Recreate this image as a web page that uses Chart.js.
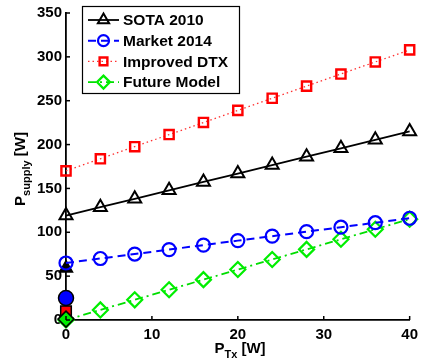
<!DOCTYPE html>
<html>
<head>
<meta charset="utf-8">
<script src="https://cdn.jsdelivr.net/npm/chart.js@4"></script>
<style>
  html, body { margin: 0; padding: 0; background: #fff; }
  #wrap { position: relative; width: 424px; height: 359px; }
</style>
</head>
<body>
<div id="wrap"><canvas id="c" width="424" height="359"></canvas></div>
<script>
// Transmit power (W)
const txPower = [0, 4, 8, 12, 16, 20, 24, 28, 32, 36, 40];

// Supply power (W) per model
const sota2010 = [119, 128.6, 138.2, 147.8, 157.4, 167, 176.6, 186.2, 195.8, 205.4, 215];
const market2014 = [65, 70.1, 75.2, 80.3, 85.4, 90.5, 95.6, 100.7, 105.8, 110.9, 116];
const improvedDtx = [170, 183.8, 197.6, 211.4, 225.2, 239, 252.8, 266.6, 280.4, 294.2, 308];
const futureModel = [0, 11.5, 23, 34.5, 46, 57.5, 69, 80.5, 92, 103.5, 115];

// Sleep-mode power at zero transmit power (W)
const sleepSota = 59;
const sleepMarket = 25;
const sleepDtx = 10;
const sleepFuture = 1;

const seriesNames = ['SOTA 2010', 'Market 2014', 'Improved DTX', 'Future Model'];
const xTicks = [0, 10, 20, 30, 40];
const yTicks = [0, 50, 100, 150, 200, 250, 300, 350];

const FONT = '"Liberation Sans", Arial, sans-serif';

function pts(ys) { return txPower.map((x, i) => ({ x, y: ys[i] })); }

const series = [
  { label: seriesNames[0], data: pts(sota2010), borderColor: '#000', borderWidth: 1.8, borderDash: [],
    pointStyle: 'triangle', pointRadius: 7.5, pointBorderColor: '#000', pointBorderWidth: 2, pointBackgroundColor: 'rgba(0,0,0,0)' },
  { label: seriesNames[1], data: pts(market2014), borderColor: '#0000ff', borderWidth: 2, borderDash: [8, 5],
    pointStyle: 'circle', pointRadius: 6.5, pointBorderColor: '#0000ff', pointBorderWidth: 2.2, pointBackgroundColor: 'rgba(0,0,0,0)' },
  { label: seriesNames[2], data: pts(improvedDtx), borderColor: '#ff3030', borderWidth: 1.3, borderDash: [1.5, 3],
    pointStyle: 'rect', pointRadius: 6.5, pointBorderColor: '#ff0000', pointBorderWidth: 2.4, pointBackgroundColor: 'rgba(0,0,0,0)' },
  { label: seriesNames[3], data: pts(futureModel), borderColor: '#00dd00', borderWidth: 1.8, borderDash: [8, 4, 2, 4],
    pointStyle: 'rectRot', pointRadius: 7.5, pointBorderColor: '#00ee00', pointBorderWidth: 2.2, pointBackgroundColor: 'rgba(0,0,0,0)' }
];

const datasets = series.map(s => Object.assign({ showLine: true, fill: false, tension: 0, order: 1, clip: false }, s));

// Filled markers for sleep mode
datasets.push({ data: [{ x: 0, y: sleepSota }], showLine: false, pointStyle: 'triangle', pointRadius: 7.5, clip: false,
  pointBackgroundColor: '#000', pointBorderColor: '#000', pointBorderWidth: 1.5, order: 10 });
datasets.push({ data: [{ x: 0, y: sleepMarket }], showLine: false, pointStyle: 'circle', pointRadius: 7.5, clip: false,
  pointBackgroundColor: '#0000ff', pointBorderColor: '#000', pointBorderWidth: 1.5, order: -1 });
datasets.push({ data: [{ x: 0, y: sleepDtx }], showLine: false, pointStyle: 'rect', pointRadius: 7.5, clip: false,
  pointBackgroundColor: '#ff0000', pointBorderColor: '#000', pointBorderWidth: 1.5, order: -1 });
datasets.push({ data: [{ x: 0, y: sleepFuture }], showLine: false, pointStyle: 'rectRot', pointRadius: 8, clip: false,
  pointBackgroundColor: '#00ee00', pointBorderColor: '#000', pointBorderWidth: 1.5, order: -2 });

// Inward tick marks, axis titles with subscripts, and a boxed legend
const decorations = {
  id: 'decorations',
  afterDraw(chart) {
    const ctx = chart.ctx;
    const xs = chart.scales.x, ys = chart.scales.y;
    const left = xs.left, bottom = ys.bottom;
    ctx.save();
    ctx.strokeStyle = '#000';
    ctx.lineWidth = 1.5;
    xTicks.forEach(v => {
      const px = xs.getPixelForValue(v);
      ctx.beginPath(); ctx.moveTo(px, bottom); ctx.lineTo(px, bottom - 4); ctx.stroke();
    });
    yTicks.forEach(v => {
      const py = ys.getPixelForValue(v);
      ctx.beginPath(); ctx.moveTo(left, py); ctx.lineTo(left + 4, py); ctx.stroke();
    });

    // x title: P_Tx [W]
    ctx.fillStyle = '#000';
    ctx.textBaseline = 'alphabetic';
    ctx.textAlign = 'left';
    const big = 'bold 15px ' + FONT, small = 'bold 11px ' + FONT;
    ctx.font = big; const wP = ctx.measureText('P').width; const wW = ctx.measureText(' [W]').width;
    ctx.font = small; const wTx = ctx.measureText('Tx').width;
    let tx = 240 - (wP + wTx + wW) / 2, ty = 353;
    ctx.font = big; ctx.fillText('P', tx, ty);
    ctx.font = small; ctx.fillText('Tx', tx + wP, ty + 5);
    ctx.font = big; ctx.fillText(' [W]', tx + wP + wTx, ty);

    // y title: P_supply [W], rotated
    ctx.font = small; const wSup = ctx.measureText('supply').width;
    const totalY = wP + wSup + wW;
    ctx.translate(25, 169);
    ctx.rotate(-Math.PI / 2);
    let sx = -totalY / 2;
    ctx.font = big; ctx.fillText('P', sx, 0);
    ctx.font = small; ctx.fillText('supply', sx + wP, 5);
    ctx.font = big; ctx.fillText(' [W]', sx + wP + wSup, 0);
    ctx.setTransform(1, 0, 0, 1, 0, 0);

    // legend box
    const bx = 82, by = 6, bw = 157, bh = 87;
    ctx.fillStyle = '#fff';
    ctx.fillRect(bx, by, bw, bh);
    ctx.lineWidth = 1.2;
    ctx.strokeStyle = '#000';
    ctx.strokeRect(bx + 0.5, by + 0.5, bw, bh);
    ctx.font = 'bold 15.5px ' + FONT;
    ctx.textBaseline = 'middle';
    series.forEach((s, i) => {
      const cy = by + 14 + i * 20.7;
      ctx.save();
      ctx.strokeStyle = s.borderColor;
      ctx.lineWidth = s.borderWidth;
      ctx.setLineDash(s.borderDash);
      ctx.beginPath(); ctx.moveTo(88, cy); ctx.lineTo(119, cy); ctx.stroke();
      ctx.restore();
      ctx.save();
      ctx.strokeStyle = s.pointBorderColor;
      ctx.fillStyle = 'rgba(0,0,0,0)';
      ctx.lineWidth = s.pointBorderWidth;
      Chart.helpers.drawPoint(ctx, { pointStyle: s.pointStyle, radius: s.pointRadius - 1, borderWidth: s.pointBorderWidth, rotation: 0 }, 103.5, cy);
      ctx.restore();
      ctx.fillStyle = '#000';
      ctx.fillText(s.label, 123, cy + 1);
    });
    ctx.restore();
  }
};

new Chart(document.getElementById('c'), {
  type: 'scatter',
  data: { datasets },
  plugins: [decorations],
  options: {
    responsive: false,
    animation: false,
    events: [],
    layout: { padding: { top: 8, right: 9, left: 0, bottom: 0 } },
    plugins: { legend: { display: false }, tooltip: { enabled: false } },
    scales: {
      x: {
        type: 'linear', min: 0, max: 40,
        afterFit(scale) { scale.height = 39; },
        afterBuildTicks(scale) { scale.ticks = xTicks.map(v => ({ value: v })); },
        grid: { display: false, drawTicks: false },
        border: { display: true, color: '#000', width: 1.8 },
        ticks: { color: '#000', font: { family: FONT, size: 15, weight: 'bold' }, padding: 6, maxRotation: 0 }
      },
      y: {
        type: 'linear', min: 0, max: 350,
        afterFit(scale) { scale.width = 66; },
        afterBuildTicks(scale) { scale.ticks = yTicks.map(v => ({ value: v })); },
        grid: { display: false, drawTicks: false },
        border: { display: true, color: '#000', width: 1.8 },
        ticks: { color: '#000', font: { family: FONT, size: 15, weight: 'bold' }, padding: 4 }
      }
    }
  }
});
</script>
</body>
</html>
